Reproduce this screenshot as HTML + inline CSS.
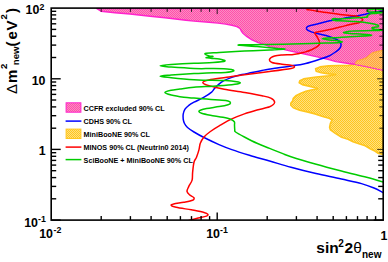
<!DOCTYPE html>
<html><head><meta charset="utf-8"><title>plot</title>
<style>
html,body{margin:0;padding:0;background:#fff;}
body{width:388px;height:262px;position:relative;overflow:hidden;font-family:"Liberation Sans",sans-serif;color:#000;}
.t{position:absolute;white-space:nowrap;font-weight:bold;line-height:1;}

</style></head><body>
<svg width="388" height="262" viewBox="0 0 388 262" style="position:absolute;left:0;top:0">
<defs><clipPath id="cp"><rect x="51.2" y="8.1" width="332.0" height="212.0"/></clipPath>
<pattern id="pp" width="2" height="2" patternUnits="userSpaceOnUse"><rect width="2" height="2" fill="#fb8cc2"/><rect width="1" height="1" fill="#ff4fab"/><rect x="1" y="1" width="1" height="1" fill="#ff4fab"/></pattern>
<pattern id="py" width="2" height="2" patternUnits="userSpaceOnUse"><rect width="2" height="2" fill="#ffe080"/><rect width="1" height="1" fill="#ffc61e"/><rect x="1" y="1" width="1" height="1" fill="#ffc61e"/></pattern>
<pattern id="po" width="2" height="2" patternUnits="userSpaceOnUse"><rect width="2" height="2" fill="#ffc870"/><rect width="1" height="1" fill="#ffa040"/><rect x="1" y="1" width="1" height="1" fill="#ffa040"/></pattern>
</defs>
<g clip-path="url(#cp)">
<path d="M383.0,50.4 L377.6,51.3 L372.5,52.8 L369.4,55.3 L366.2,57.9 L361.2,59.7 L356.8,61.0 L355.0,64.2 L348.6,65.4 L339.0,65.5 L328.8,65.9 L320.0,66.9 L315.6,68.8 L316.2,71.3 L321.2,72.8 L328.8,73.9 L336.3,74.5 L328.8,75.7 L316.2,77.0 L303.6,78.9 L299.8,80.8 L299.2,82.7 L302.3,84.6 L309.9,86.4 L316.2,88.0 L318.0,88.8 L312.2,89.8 L305.9,91.3 L300.9,93.2 L295.8,95.7 L293.3,98.2 L292.7,100.7 L290.8,103.3 L290.8,105.2 L293.3,107.7 L299.6,110.2 L307.2,111.9 L315.1,113.9 L322.7,116.4 L329.0,118.3 L332.1,119.8 L330.4,123.4 L329.6,127.2 L330.4,129.9 L335.3,133.4 L341.6,137.2 L348.0,139.3 L353.0,141.8 L358.9,143.8 L365.2,145.7 L370.2,148.8 L375.3,151.3 L377.8,153.2 L383.0,154.6Z" fill="url(#py)" stroke="#ffc61e" stroke-width="1.6" stroke-linejoin="round"/>
<path d="M96.5,8.5 L101.0,11.2 L115.0,12.7 L130.0,14.0 L150.0,16.2 L165.0,17.8 L186.0,20.3 L194.0,21.1 L209.0,22.3 L218.0,23.1 L225.6,24.1 L231.9,25.3 L236.9,26.6 L240.0,28.5 L241.3,31.0 L243.2,33.5 L247.0,36.7 L252.0,39.8 L258.3,42.7 L266.0,45.0 L269.6,46.6 L282.2,49.1 L292.0,51.4 L304.6,54.0 L317.2,56.9 L329.8,59.8 L336.0,61.6 L348.6,63.5 L354.9,64.3 L367.5,66.7 L378.8,69.2 L383.0,70.0 L383.0,8.5Z" fill="url(#pp)" stroke="#ff22cc" stroke-width="1.4" stroke-linejoin="round"/>
<path d="M383.0,50.4 L377.6,51.3 L372.5,52.8 L369.4,55.3 L366.2,57.9 L361.2,59.7 L356.8,61.0 L355.0,64.2 L367.5,66.7 L378.8,69.2 L383.0,70.0Z" fill="url(#po)" stroke="none"/>
<path d="M354.9,64.3 L367.5,66.7 L378.8,69.2 L383.0,70.0" fill="none" stroke="#ff22cc" stroke-width="1" stroke-dasharray="1.5 1.5"/>
<path d="M383.0,50.4 L377.6,51.3 L372.5,52.8 L369.4,55.3 L366.2,57.9 L361.2,59.7 L356.8,61.0 L355.0,64.2" fill="none" stroke="#ffa838" stroke-width="1.2"/>
<path d="M382.8,11.0 C380.9,11.3 374.6,12.2 371.5,12.8 C368.4,13.4 366.5,13.9 364.0,14.5 C361.5,15.1 359.1,15.6 356.4,16.1 C353.7,16.6 350.7,17.1 348.0,17.6 C345.3,18.1 343.0,18.4 340.0,18.9 C337.0,19.4 333.6,20.0 329.8,20.8 C326.0,21.6 320.6,23.1 317.2,23.9 C313.8,24.7 311.4,25.2 309.6,25.8 C307.8,26.4 306.8,27.0 306.5,27.7 C306.2,28.4 306.8,29.5 307.7,30.2 C308.6,30.9 310.5,31.5 312.2,32.1 C313.9,32.7 315.2,33.1 318.0,33.8 C320.8,34.5 325.7,35.5 329.0,36.5 C332.3,37.5 335.6,38.8 337.6,40.0 C339.6,41.2 340.6,42.7 341.0,44.0 C341.4,45.3 340.8,46.7 340.0,48.0 C339.2,49.3 337.8,50.3 336.0,51.6 C334.2,52.9 332.3,54.5 329.0,56.0 C325.7,57.5 320.2,59.2 316.0,60.5 C311.8,61.8 307.8,63.1 303.6,64.0 C299.4,64.9 295.4,65.3 291.0,66.0 C286.6,66.7 281.8,67.2 277.0,68.0 C272.2,68.8 266.2,69.7 262.0,70.5 C257.8,71.3 255.3,71.9 252.0,72.6 C248.7,73.3 245.4,73.8 242.0,74.6 C238.6,75.4 235.0,76.3 231.8,77.4 C228.6,78.5 225.3,79.9 223.0,81.2 C220.7,82.5 219.3,83.8 217.9,85.0 C216.5,86.2 215.6,87.3 214.5,88.5 C213.4,89.7 213.3,90.6 211.6,92.1 C209.9,93.5 207.0,95.5 204.1,97.2 C201.2,98.9 196.6,100.8 194.0,102.2 C191.4,103.6 190.3,104.2 188.8,105.4 C187.3,106.6 185.9,107.7 185.0,109.2 C184.1,110.7 183.5,112.5 183.2,114.2 C182.9,115.9 183.0,117.7 183.2,119.2 C183.4,120.8 183.8,122.1 184.5,123.5 C185.2,124.9 185.9,126.1 187.5,127.5 C189.1,128.9 191.2,130.3 194.0,132.0 C196.8,133.7 199.8,135.4 204.0,137.5 C208.2,139.6 214.4,142.6 219.0,144.6 C223.6,146.6 226.7,147.8 231.8,149.6 C236.9,151.4 243.1,153.3 249.4,155.2 C255.7,157.1 262.7,159.0 269.6,161.0 C276.5,163.0 283.3,165.2 291.0,167.3 C298.7,169.4 307.6,171.7 316.0,173.6 C324.4,175.5 333.8,177.3 341.4,179.0 C349.0,180.7 356.1,182.1 361.5,183.6 C366.9,185.1 370.4,186.5 374.0,188.0 C377.6,189.5 381.5,191.8 383.0,192.5" fill="none" stroke="#0000ff" stroke-width="1.5" stroke-linejoin="round" stroke-linecap="round"/>
<path d="M307.0,9.4 C308.7,9.7 313.4,10.7 317.2,11.3 C321.0,11.9 326.0,12.5 329.8,13.0 C333.6,13.5 336.2,14.0 340.0,14.4 C343.8,14.8 349.7,15.4 352.6,15.7 C355.5,16.0 356.1,16.0 357.6,16.4 C359.1,16.8 360.5,17.7 361.4,18.3 C362.2,18.9 363.1,19.5 362.7,20.2 C362.3,20.9 361.0,22.0 358.9,22.7 C356.8,23.4 353.1,23.9 350.0,24.6 C346.9,25.3 343.4,26.3 340.0,27.1 C336.6,27.9 333.6,28.8 329.8,29.6 C326.0,30.4 319.7,31.5 317.2,32.1 C314.7,32.7 314.6,32.0 314.7,33.0 C314.8,34.0 317.0,36.3 317.8,38.0 C318.6,39.7 319.7,41.7 319.7,43.1 C319.7,44.5 319.3,45.1 317.8,46.2 C316.3,47.4 313.1,49.0 310.9,50.0 C308.7,51.0 306.7,51.5 304.6,52.1 C302.5,52.7 300.4,53.4 298.3,53.8 C296.2,54.2 294.7,54.5 292.0,54.7 C289.3,54.9 285.1,54.8 282.2,55.0 C279.3,55.2 276.7,55.3 274.6,56.0 C272.5,56.7 270.0,58.1 269.6,59.2 C269.2,60.3 269.9,61.7 272.0,62.5 C274.1,63.3 278.8,63.8 282.0,64.2 C285.2,64.7 288.9,64.8 291.0,65.2 C293.1,65.6 294.5,66.0 294.5,66.5 C294.5,67.0 295.1,67.7 291.0,68.5 C286.9,69.3 277.4,70.5 269.6,71.5 C261.8,72.5 251.6,73.8 244.4,74.8 C237.2,75.8 232.6,76.4 226.7,77.3 C220.8,78.2 213.0,79.1 209.0,79.9 C205.0,80.8 202.8,81.5 202.8,82.4 C202.8,83.4 205.4,84.5 209.0,85.6 C212.6,86.7 218.3,88.1 224.2,89.2 C230.1,90.3 238.1,91.3 244.4,92.4 C250.7,93.5 257.6,94.7 262.0,95.7 C266.4,96.7 268.7,97.1 270.8,98.2 C272.9,99.3 274.8,101.1 274.6,102.5 C274.4,103.9 272.5,105.5 269.6,106.8 C266.7,108.0 261.2,108.8 257.0,110.0 C252.8,111.2 248.6,112.4 244.4,113.9 C240.2,115.4 236.0,116.9 231.8,118.9 C227.6,120.9 222.8,123.8 219.2,125.9 C215.6,128.0 212.9,129.7 210.4,131.5 C207.9,133.3 205.7,135.0 204.0,137.0 C202.3,139.0 201.1,141.2 200.3,143.3 C199.5,145.4 199.6,147.3 199.0,149.6 C198.4,151.9 197.3,155.1 196.5,157.2 C195.7,159.3 194.7,159.6 194.0,162.2 C193.3,164.8 192.9,169.6 192.6,172.6 C192.3,175.6 192.7,177.8 192.1,180.1 C191.5,182.4 189.7,184.5 188.8,186.4 C188.0,188.3 186.8,189.9 187.0,191.4 C187.2,192.9 188.8,194.1 190.0,195.2 C191.2,196.2 193.5,196.8 193.9,197.7 C194.3,198.5 194.3,199.5 192.6,200.3 C190.9,201.1 187.0,201.7 183.8,202.3 C180.7,202.9 175.8,203.5 173.7,204.0 C171.6,204.5 170.8,204.8 171.2,205.3 C171.6,205.9 172.8,206.6 176.2,207.3 C179.5,208.1 186.7,209.0 191.3,209.8 C195.9,210.7 201.3,211.7 204.0,212.4 C206.7,213.1 207.3,213.5 207.7,214.1 C208.1,214.7 208.4,215.4 206.5,216.1 C204.6,216.8 199.6,217.6 196.4,218.4 C193.2,219.2 189.1,220.5 187.6,220.9" fill="none" stroke="#ff0000" stroke-width="1.5" stroke-linejoin="round" stroke-linecap="round"/>
<path d="M383.0,9.4 C381.7,9.3 377.2,9.1 375.0,9.1 C372.8,9.1 371.3,9.3 370.0,9.6 C368.7,9.8 367.4,10.2 367.3,10.6 C367.2,11.0 368.0,11.8 369.5,12.0 C371.0,12.2 374.2,11.9 376.5,12.0 C378.8,12.1 382.8,12.2 383.0,12.4 C383.2,12.6 379.5,13.0 377.8,13.2 C376.1,13.4 374.2,13.4 372.7,13.6 C371.2,13.8 369.9,14.1 369.0,14.5 C368.1,14.9 367.2,15.7 367.0,16.1 C366.8,16.5 368.2,16.8 367.5,17.0 C366.8,17.2 365.2,17.4 362.7,17.6 C360.2,17.8 356.4,17.8 352.6,18.0 C348.8,18.2 343.0,18.8 340.0,18.9 C337.0,19.0 336.1,18.5 334.8,18.6 C333.5,18.7 332.0,19.2 332.0,19.5 C332.0,19.8 333.5,20.2 334.8,20.4 C336.1,20.6 337.0,20.6 340.0,20.8 C343.0,21.0 348.4,21.1 352.6,21.4 C356.8,21.7 361.6,22.0 365.2,22.4 C368.8,22.8 371.9,23.4 374.0,23.9 C376.1,24.4 377.1,24.7 377.8,25.2 C378.5,25.7 378.7,26.4 378.4,26.7 C378.1,27.0 376.9,26.9 375.9,27.1 C374.8,27.3 372.5,27.4 372.1,27.7 C371.7,28.0 372.4,28.7 373.4,29.0 C374.3,29.3 376.3,29.4 377.8,29.6 C379.3,29.8 383.2,30.0 382.2,30.2 C381.1,30.4 376.4,30.5 371.5,30.6 C366.6,30.7 357.0,30.6 352.6,30.9 C348.2,31.1 346.4,31.8 345.0,32.1 C343.6,32.4 343.1,32.5 343.9,32.7 C344.7,32.9 345.4,33.0 350.0,33.4 C354.6,33.8 373.2,34.6 371.5,35.3 C369.8,36.0 346.9,36.9 340.0,37.4 C333.1,37.9 332.8,37.8 329.8,38.0 C326.8,38.2 322.2,38.4 322.2,38.7 C322.2,39.0 326.8,39.5 329.8,39.9 C332.8,40.3 338.3,40.8 340.0,41.2 C341.7,41.6 343.8,42.0 340.0,42.4 C336.2,42.8 325.2,43.0 317.2,43.3 C309.2,43.6 305.0,43.9 292.0,44.1 C279.0,44.4 245.1,44.4 239.3,44.8 C233.5,45.2 250.7,46.0 257.0,46.6 C263.3,47.2 272.4,48.0 277.0,48.4 C281.6,48.8 285.9,48.9 284.7,49.1 C283.5,49.4 276.3,49.6 269.6,49.9 C262.9,50.2 252.8,50.7 244.4,51.1 C236.0,51.5 225.7,52.0 219.2,52.4 C212.7,52.8 207.0,52.8 205.3,53.4 C203.6,54.0 207.7,55.4 209.0,55.9 C210.3,56.4 213.4,56.2 212.9,56.5 C212.4,56.8 206.2,57.3 206.0,57.6 C205.8,57.9 209.8,58.1 212.0,58.4 C214.2,58.6 217.0,58.7 219.2,59.1 C221.3,59.5 225.9,60.4 224.9,61.0 C223.9,61.6 218.2,62.1 213.0,62.5 C207.8,62.9 201.0,62.9 194.0,63.3 C187.0,63.6 176.8,64.2 171.2,64.6 C165.5,65.0 160.1,65.4 160.1,65.8 C160.1,66.2 165.5,66.6 171.2,67.1 C176.8,67.5 187.1,68.2 194.0,68.5 C200.9,68.8 207.0,68.5 212.9,68.6 C218.8,68.7 225.8,68.8 229.3,69.2 C232.8,69.6 234.3,70.4 233.7,70.9 C233.1,71.4 230.0,72.1 225.5,72.4 C221.0,72.8 211.8,72.8 206.6,73.0 C201.3,73.2 199.9,73.2 194.0,73.5 C188.1,73.8 176.8,74.5 171.2,74.9 C165.5,75.4 160.1,75.7 160.1,76.2 C160.1,76.7 165.5,77.1 171.2,77.7 C176.8,78.3 188.1,79.4 194.0,79.8 C199.9,80.2 201.3,80.1 206.6,80.2 C211.8,80.3 220.5,80.3 225.5,80.6 C230.5,80.9 234.4,81.4 236.8,81.8 C239.2,82.2 240.8,82.6 240.0,83.1 C239.2,83.6 236.3,84.2 231.8,84.7 C227.3,85.2 219.2,85.8 212.9,86.2 C206.6,86.6 199.5,86.8 194.0,87.3 C188.5,87.8 183.8,88.5 180.0,89.0 C176.2,89.5 173.7,89.6 171.2,90.2 C168.7,90.8 164.9,91.7 164.9,92.5 C164.9,93.3 168.0,94.2 171.2,95.0 C174.3,95.8 180.0,96.7 183.8,97.2 C187.6,97.7 190.2,97.8 194.0,98.1 C197.8,98.4 202.4,98.8 206.6,99.1 C210.8,99.4 215.6,99.8 219.2,100.1 C222.8,100.4 226.1,100.5 228.0,101.0 C229.9,101.5 230.5,102.3 230.5,102.9 C230.5,103.5 229.9,104.1 228.0,104.7 C226.1,105.3 222.8,106.0 219.2,106.6 C215.6,107.2 209.8,107.9 206.6,108.5 C203.4,109.1 201.6,109.7 200.3,110.2 C199.0,110.7 198.8,111.2 199.0,111.7 C199.2,112.2 199.7,112.6 201.6,113.2 C203.5,113.8 206.8,114.5 210.4,115.2 C214.0,115.9 219.7,116.6 223.0,117.3 C226.3,118.0 228.6,118.5 230.5,119.2 C232.4,119.9 233.6,120.7 234.3,121.7 C235.0,122.7 234.4,123.8 234.5,125.2 C234.6,126.6 234.6,128.9 234.8,130.0 C235.0,131.1 234.0,130.8 235.6,132.0 C237.2,133.2 240.8,135.1 244.4,137.0 C248.0,138.9 252.8,141.4 257.0,143.3 C261.2,145.2 265.4,146.7 269.6,148.4 C273.8,150.1 278.6,152.0 282.2,153.4 C285.8,154.8 285.3,154.9 291.0,156.7 C296.7,158.5 307.8,161.8 316.2,164.2 C324.6,166.6 333.0,168.8 341.4,171.0 C349.8,173.2 359.7,175.5 366.6,177.3 C373.5,179.1 380.3,181.2 383.0,182.0" fill="none" stroke="#00cc00" stroke-width="1.5" stroke-linejoin="round" stroke-linecap="round"/>
</g>
<rect x="51.2" y="8.1" width="332.0" height="212.0" fill="none" stroke="#000" stroke-width="1.6"/>
<line x1="101.2" y1="220.1" x2="101.2" y2="216.1" stroke="#000" stroke-width="1.4"/>
<line x1="101.2" y1="8.1" x2="101.2" y2="11.9" stroke="#000" stroke-width="0.8"/>
<line x1="130.4" y1="220.1" x2="130.4" y2="216.1" stroke="#000" stroke-width="1.4"/>
<line x1="130.4" y1="8.1" x2="130.4" y2="11.9" stroke="#000" stroke-width="0.8"/>
<line x1="151.1" y1="220.1" x2="151.1" y2="216.1" stroke="#000" stroke-width="1.4"/>
<line x1="151.1" y1="8.1" x2="151.1" y2="11.9" stroke="#000" stroke-width="0.8"/>
<line x1="167.2" y1="220.1" x2="167.2" y2="216.1" stroke="#000" stroke-width="1.4"/>
<line x1="167.2" y1="8.1" x2="167.2" y2="11.9" stroke="#000" stroke-width="0.8"/>
<line x1="180.4" y1="220.1" x2="180.4" y2="216.1" stroke="#000" stroke-width="1.4"/>
<line x1="180.4" y1="8.1" x2="180.4" y2="11.9" stroke="#000" stroke-width="0.8"/>
<line x1="191.5" y1="220.1" x2="191.5" y2="216.1" stroke="#000" stroke-width="1.4"/>
<line x1="191.5" y1="8.1" x2="191.5" y2="11.9" stroke="#000" stroke-width="0.8"/>
<line x1="201.1" y1="220.1" x2="201.1" y2="216.1" stroke="#000" stroke-width="1.4"/>
<line x1="201.1" y1="8.1" x2="201.1" y2="11.9" stroke="#000" stroke-width="0.8"/>
<line x1="209.6" y1="220.1" x2="209.6" y2="216.1" stroke="#000" stroke-width="1.4"/>
<line x1="209.6" y1="8.1" x2="209.6" y2="11.9" stroke="#000" stroke-width="0.8"/>
<line x1="217.2" y1="220.1" x2="217.2" y2="212.6" stroke="#000" stroke-width="1.4"/>
<line x1="217.2" y1="8.1" x2="217.2" y2="14.1" stroke="#000" stroke-width="0.8"/>
<line x1="267.2" y1="220.1" x2="267.2" y2="216.1" stroke="#000" stroke-width="1.4"/>
<line x1="267.2" y1="8.1" x2="267.2" y2="11.9" stroke="#000" stroke-width="0.8"/>
<line x1="296.4" y1="220.1" x2="296.4" y2="216.1" stroke="#000" stroke-width="1.4"/>
<line x1="296.4" y1="8.1" x2="296.4" y2="11.9" stroke="#000" stroke-width="0.8"/>
<line x1="317.1" y1="220.1" x2="317.1" y2="216.1" stroke="#000" stroke-width="1.4"/>
<line x1="317.1" y1="8.1" x2="317.1" y2="11.9" stroke="#000" stroke-width="0.8"/>
<line x1="333.2" y1="220.1" x2="333.2" y2="216.1" stroke="#000" stroke-width="1.4"/>
<line x1="333.2" y1="8.1" x2="333.2" y2="11.9" stroke="#000" stroke-width="0.8"/>
<line x1="346.4" y1="220.1" x2="346.4" y2="216.1" stroke="#000" stroke-width="1.4"/>
<line x1="346.4" y1="8.1" x2="346.4" y2="11.9" stroke="#000" stroke-width="0.8"/>
<line x1="357.5" y1="220.1" x2="357.5" y2="216.1" stroke="#000" stroke-width="1.4"/>
<line x1="357.5" y1="8.1" x2="357.5" y2="11.9" stroke="#000" stroke-width="0.8"/>
<line x1="367.1" y1="220.1" x2="367.1" y2="216.1" stroke="#000" stroke-width="1.4"/>
<line x1="367.1" y1="8.1" x2="367.1" y2="11.9" stroke="#000" stroke-width="0.8"/>
<line x1="375.6" y1="220.1" x2="375.6" y2="216.1" stroke="#000" stroke-width="1.4"/>
<line x1="375.6" y1="8.1" x2="375.6" y2="11.9" stroke="#000" stroke-width="0.8"/>
<line x1="51.2" y1="220.1" x2="60.7" y2="220.1" stroke="#000" stroke-width="1.4"/>
<line x1="383.2" y1="220.1" x2="373.7" y2="220.1" stroke="#000" stroke-width="1.4"/>
<line x1="51.2" y1="198.8" x2="56.2" y2="198.8" stroke="#000" stroke-width="1.4"/>
<line x1="383.2" y1="198.8" x2="378.2" y2="198.8" stroke="#000" stroke-width="1.4"/>
<line x1="51.2" y1="186.4" x2="56.2" y2="186.4" stroke="#000" stroke-width="1.4"/>
<line x1="383.2" y1="186.4" x2="378.2" y2="186.4" stroke="#000" stroke-width="1.4"/>
<line x1="51.2" y1="177.6" x2="56.2" y2="177.6" stroke="#000" stroke-width="1.4"/>
<line x1="383.2" y1="177.6" x2="378.2" y2="177.6" stroke="#000" stroke-width="1.4"/>
<line x1="51.2" y1="170.7" x2="56.2" y2="170.7" stroke="#000" stroke-width="1.4"/>
<line x1="383.2" y1="170.7" x2="378.2" y2="170.7" stroke="#000" stroke-width="1.4"/>
<line x1="51.2" y1="165.1" x2="56.2" y2="165.1" stroke="#000" stroke-width="1.4"/>
<line x1="383.2" y1="165.1" x2="378.2" y2="165.1" stroke="#000" stroke-width="1.4"/>
<line x1="51.2" y1="160.4" x2="56.2" y2="160.4" stroke="#000" stroke-width="1.4"/>
<line x1="383.2" y1="160.4" x2="378.2" y2="160.4" stroke="#000" stroke-width="1.4"/>
<line x1="51.2" y1="156.3" x2="56.2" y2="156.3" stroke="#000" stroke-width="1.4"/>
<line x1="383.2" y1="156.3" x2="378.2" y2="156.3" stroke="#000" stroke-width="1.4"/>
<line x1="51.2" y1="152.7" x2="56.2" y2="152.7" stroke="#000" stroke-width="1.4"/>
<line x1="383.2" y1="152.7" x2="379.4" y2="152.7" stroke="#000" stroke-width="0.8"/>
<line x1="51.2" y1="149.4" x2="60.7" y2="149.4" stroke="#000" stroke-width="1.4"/>
<line x1="383.2" y1="149.4" x2="377.2" y2="149.4" stroke="#000" stroke-width="0.8"/>
<line x1="51.2" y1="128.2" x2="56.2" y2="128.2" stroke="#000" stroke-width="1.4"/>
<line x1="383.2" y1="128.2" x2="379.4" y2="128.2" stroke="#000" stroke-width="0.8"/>
<line x1="51.2" y1="115.7" x2="56.2" y2="115.7" stroke="#000" stroke-width="1.4"/>
<line x1="383.2" y1="115.7" x2="379.4" y2="115.7" stroke="#000" stroke-width="0.8"/>
<line x1="51.2" y1="106.9" x2="56.2" y2="106.9" stroke="#000" stroke-width="1.4"/>
<line x1="383.2" y1="106.9" x2="379.4" y2="106.9" stroke="#000" stroke-width="0.8"/>
<line x1="51.2" y1="100.0" x2="56.2" y2="100.0" stroke="#000" stroke-width="1.4"/>
<line x1="383.2" y1="100.0" x2="379.4" y2="100.0" stroke="#000" stroke-width="0.8"/>
<line x1="51.2" y1="94.4" x2="56.2" y2="94.4" stroke="#000" stroke-width="1.4"/>
<line x1="383.2" y1="94.4" x2="379.4" y2="94.4" stroke="#000" stroke-width="0.8"/>
<line x1="51.2" y1="89.7" x2="56.2" y2="89.7" stroke="#000" stroke-width="1.4"/>
<line x1="383.2" y1="89.7" x2="379.4" y2="89.7" stroke="#000" stroke-width="0.8"/>
<line x1="51.2" y1="85.6" x2="56.2" y2="85.6" stroke="#000" stroke-width="1.4"/>
<line x1="383.2" y1="85.6" x2="379.4" y2="85.6" stroke="#000" stroke-width="0.8"/>
<line x1="51.2" y1="82.0" x2="56.2" y2="82.0" stroke="#000" stroke-width="1.4"/>
<line x1="383.2" y1="82.0" x2="379.4" y2="82.0" stroke="#000" stroke-width="0.8"/>
<line x1="51.2" y1="78.8" x2="60.7" y2="78.8" stroke="#000" stroke-width="1.4"/>
<line x1="383.2" y1="78.8" x2="377.2" y2="78.8" stroke="#000" stroke-width="0.8"/>
<line x1="51.2" y1="57.5" x2="56.2" y2="57.5" stroke="#000" stroke-width="1.4"/>
<line x1="383.2" y1="57.5" x2="379.4" y2="57.5" stroke="#000" stroke-width="0.8"/>
<line x1="51.2" y1="45.1" x2="56.2" y2="45.1" stroke="#000" stroke-width="1.4"/>
<line x1="383.2" y1="45.1" x2="379.4" y2="45.1" stroke="#000" stroke-width="0.8"/>
<line x1="51.2" y1="36.2" x2="56.2" y2="36.2" stroke="#000" stroke-width="1.4"/>
<line x1="383.2" y1="36.2" x2="379.4" y2="36.2" stroke="#000" stroke-width="0.8"/>
<line x1="51.2" y1="29.4" x2="56.2" y2="29.4" stroke="#000" stroke-width="1.4"/>
<line x1="383.2" y1="29.4" x2="379.4" y2="29.4" stroke="#000" stroke-width="0.8"/>
<line x1="51.2" y1="23.8" x2="56.2" y2="23.8" stroke="#000" stroke-width="1.4"/>
<line x1="383.2" y1="23.8" x2="379.4" y2="23.8" stroke="#000" stroke-width="0.8"/>
<line x1="51.2" y1="19.0" x2="56.2" y2="19.0" stroke="#000" stroke-width="1.4"/>
<line x1="383.2" y1="19.0" x2="379.4" y2="19.0" stroke="#000" stroke-width="0.8"/>
<line x1="51.2" y1="14.9" x2="56.2" y2="14.9" stroke="#000" stroke-width="1.4"/>
<line x1="383.2" y1="14.9" x2="379.4" y2="14.9" stroke="#000" stroke-width="0.8"/>
<line x1="51.2" y1="11.3" x2="56.2" y2="11.3" stroke="#000" stroke-width="1.4"/>
<line x1="383.2" y1="11.3" x2="379.4" y2="11.3" stroke="#000" stroke-width="0.8"/>
<rect x="66.1" y="102.8" width="14.8" height="9.4" fill="url(#pp)" stroke="#ff22cc" stroke-width="1"/><line x1="65.6" x2="81.4" y1="121.1" y2="121.1" stroke="#0000ff" stroke-width="1.5"/><rect x="66.1" y="129.1" width="14.8" height="9.4" fill="url(#py)" stroke="#ffc61e" stroke-width="1"/><line x1="65.6" x2="81.4" y1="147.1" y2="147.1" stroke="#ff0000" stroke-width="1.5"/><line x1="65.6" x2="81.4" y1="159.6" y2="159.6" stroke="#00cc00" stroke-width="1.5"/>
</svg>
<div class="t" style="left:25.50px;top:4.10px;font-size:12.4px;">10</div>
<div class="t" style="left:39.60px;top:2.55px;font-size:8.8px;">2</div>
<div class="t" style="left:31.70px;top:74.90px;font-size:12.4px;">10</div>
<div class="t" style="left:38.70px;top:144.60px;font-size:12.4px;">1</div>
<div class="t" style="left:24.20px;top:216.70px;font-size:12.4px;">10</div>
<div class="t" style="left:38.00px;top:214.95px;font-size:8.8px;">-1</div>
<div class="t" style="left:39.20px;top:227.60px;font-size:12.4px;">10</div>
<div class="t" style="left:53.60px;top:226.05px;font-size:8.8px;">-2</div>
<div class="t" style="left:206.20px;top:227.60px;font-size:12.4px;">10</div>
<div class="t" style="left:220.00px;top:226.05px;font-size:8.8px;">-1</div>
<div class="t" style="left:380.40px;top:229.50px;font-size:12.4px;">1</div>
<div class="t" style="left:316.30px;top:239.98px;font-size:15.5px;">sin</div>
<div class="t" style="left:338.30px;top:238.63px;font-size:10px;">2</div>
<div class="t" style="left:344.60px;top:239.98px;font-size:15.5px;">2</div>
<div class="t" style="left:353.20px;top:239.98px;font-size:15.5px;font-weight:normal;">&theta;</div>
<div class="t" style="left:362.00px;top:249.53px;font-size:10px;">new</div>
<div style="position:absolute;left:0;top:0;width:0;height:0;transform-origin:0 0;transform:translate(0px,97px) rotate(-90deg);"><div class="t" style="left:2.90px;top:3.60px;font-size:15px;font-weight:normal;">&Delta;</div><div class="t" style="left:14.00px;top:3.60px;font-size:15px;">m</div><div class="t" style="left:28.00px;top:-0.63px;font-size:9.6px;">2</div><div class="t" style="left:31.80px;top:11.27px;font-size:9.6px;">new</div><div class="t" style="left:50.60px;top:3.60px;font-size:15px;">(</div><div class="t" style="left:57.60px;top:3.60px;font-size:15px;">e</div><div class="t" style="left:66.60px;top:3.60px;font-size:15px;">V</div><div class="t" style="left:77.40px;top:-0.63px;font-size:9.6px;">2</div><div class="t" style="left:84.00px;top:3.60px;font-size:15px;">)</div></div>
<div class="t" style="left:83.60px;top:104.51px;font-size:7.2px;">CCFR excluded 90% CL</div>
<div class="t" style="left:83.60px;top:117.56px;font-size:7.2px;">CDHS 90% CL</div>
<div class="t" style="left:83.60px;top:130.61px;font-size:7.2px;">MiniBooNE 90% CL</div>
<div class="t" style="left:83.60px;top:143.66px;font-size:7.2px;">MINOS 90% CL (Neutrin0 2014)</div>
<div class="t" style="left:83.60px;top:156.71px;font-size:7.2px;">SciBooNE + MiniBooNE 90% CL</div>
</body></html>
